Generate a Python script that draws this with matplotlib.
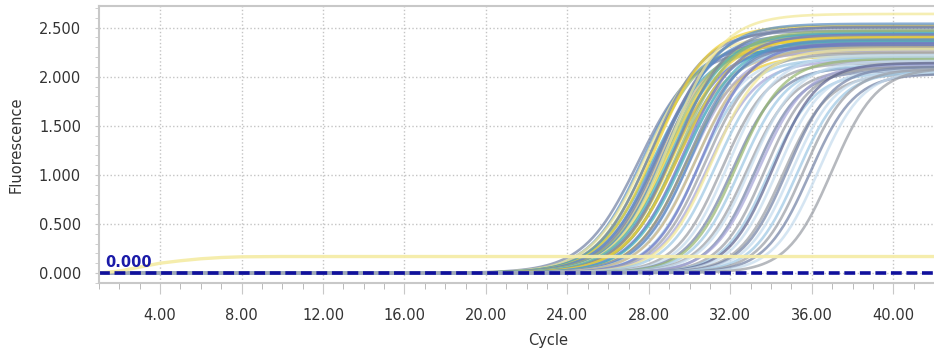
import numpy as np
import matplotlib
matplotlib.use("Agg")
import matplotlib.pyplot as plt
from matplotlib.ticker import MultipleLocator, FormatStrFormatter

# Amplification curves: Ct (half-plateau cycle), plateau, slope, colour
ct = [27.5, 27.7, 27.9, 28.0, 28.1, 28.2, 28.3, 28.4, 28.5, 28.55,
      28.6, 28.7, 28.8, 28.85, 28.9, 29.0, 29.05, 29.1, 29.2, 29.25,
      29.3, 29.4, 29.45, 29.5, 29.6, 29.7, 29.75, 29.8, 29.9, 30.0,
      30.1, 30.2, 30.3, 30.45, 30.6, 30.75, 30.9, 31.1, 31.3,
      31.6, 31.9, 32.1, 32.3, 32.5, 32.8, 33.0, 33.2, 33.4, 33.7,
      33.9, 34.1, 34.3, 34.6, 34.8, 35.0, 35.3, 35.6, 35.9, 36.3, 37.0]
plateau = [2.28, 2.32, 2.42, 2.36, 2.47, 2.30, 2.52, 2.40, 2.44, 2.34,
           2.50, 2.27, 2.42, 2.54, 2.38, 2.64, 2.31, 2.45, 2.39, 2.51,
           2.25, 2.35, 2.47, 2.41, 2.29, 2.43, 2.37, 2.21, 2.33, 2.27,
           2.38, 2.22, 2.30, 2.18, 2.34, 2.24, 2.16, 2.28, 2.20,
           2.14, 2.22, 2.10, 2.18, 2.12, 2.08, 2.16, 2.06, 2.12, 2.10,
           2.04, 2.14, 2.08, 2.03, 2.10, 2.06, 2.05, 2.08, 2.03, 2.06, 2.09]
slope = [1.35, 1.3, 1.35, 1.3, 1.3, 1.35, 1.3, 1.3, 1.35, 1.3,
         1.3, 1.3, 1.35, 1.3, 1.3, 1.3, 1.3, 1.35, 1.3, 1.3,
         1.3, 1.3, 1.3, 1.35, 1.3, 1.3, 1.3, 1.25, 1.25, 1.25,
         1.25, 1.25, 1.25, 1.2, 1.2, 1.2, 1.2, 1.2, 1.2,
         1.15, 1.15, 1.15, 1.15, 1.15, 1.15, 1.15, 1.1, 1.15, 1.1,
         1.1, 1.1, 1.1, 1.1, 1.1, 1.1, 1.1, 1.1, 1.1, 1.1, 1.1]
colour_keys = ["sl", "st", "py", "gr", "sl", "te", "ye", "pw", "st", "ta",
               "sl", "lb", "gr", "st", "ye", "py", "pw", "te", "ye", "sl",
               "ta", "st", "gr", "ye", "lb", "pw", "te", "ye", "sl", "la",
               "st", "pb", "ta", "lb", "pw", "gy", "la", "py", "lb",
               "gy", "pb", "sl", "gr", "lb", "gy", "pb", "sl", "la", "gy",
               "lb", "dk", "pb", "gy", "sl", "pb", "lb", "gy", "sl", "pb", "gy"]

palette = {"sl": "#7483a6", "st": "#5b8ec4", "pw": "#6f78c6", "ye": "#f0cf30",
           "py": "#f2e896", "lb": "#9fc8e4", "pb": "#c6dcee", "gr": "#98b870",
           "te": "#48aebc", "ta": "#c8b482", "la": "#a6a6d8", "gy": "#9a9ea6",
           "dk": "#5f6590"}

# flat yellow well (no amplification)
flat_cycles = [1, 2, 3, 4, 5, 6, 7, 8, 10, 42]
flat_values = [0.0, 0.02, 0.06, 0.10, 0.125, 0.145, 0.158, 0.165, 0.168, 0.168]

threshold = 0.0
x_ticks = [4, 8, 12, 16, 20, 24, 28, 32, 36, 40]

cycles = np.linspace(1, 42, 400)

fig = plt.figure(figsize=(9.34, 3.58), dpi=100)
ax = fig.add_axes([0.106, 0.21, 0.894, 0.773])

for c, p, k, key in zip(ct, plateau, slope, colour_keys):
    y = p / (1 + np.exp(-(cycles - c) / k))
    ax.plot(cycles, y, color=palette[key], lw=1.9, alpha=0.72, solid_capstyle="round")

ax.plot(flat_cycles, flat_values, color="#f5eca8", lw=2.4, alpha=0.95)

ax.axhline(threshold, color="#10109c", lw=2.6, ls=(0, (3, 1.3)))
ax.text(1.3, 0.03, "%.3f" % threshold, color="#1a1aa8", fontsize=10.5,
        fontweight="bold", va="bottom")

ax.set_xlim(1, 42)
ax.set_ylim(-0.1, 2.72)
ax.set_xticks(x_ticks)
ax.xaxis.set_minor_locator(MultipleLocator(1))
ax.yaxis.set_major_locator(MultipleLocator(0.5))
ax.yaxis.set_minor_locator(MultipleLocator(0.1))
ax.xaxis.set_major_formatter(FormatStrFormatter("%.2f"))
ax.yaxis.set_major_formatter(FormatStrFormatter("%.3f"))

ax.grid(True, which="major", color="#c4c4c4", ls=":", lw=1)
ax.set_axisbelow(True)

for s in ["left", "top", "bottom"]:
    ax.spines[s].set_color("#c8c8c8")
    ax.spines[s].set_linewidth(1.5)
ax.spines["right"].set_visible(False)

ax.tick_params(axis="x", which="major", length=8, color="#c8c8c8", pad=10,
               labelsize=10.5, labelcolor="#333333")
ax.tick_params(axis="x", which="minor", length=4, color="#b0b0b0")
ax.tick_params(axis="y", which="major", length=3, color="#c8c8c8", pad=10,
               labelsize=10.5, labelcolor="#333333")
ax.tick_params(axis="y", which="minor", length=3, color="#c8c8c8")

ax.set_xlabel("Cycle", fontsize=10.5, color="#333333")
ax.set_ylabel("Fluorescence", fontsize=10.5, color="#333333")
ax.xaxis.set_label_coords(0.538, -0.18)
ax.yaxis.set_label_coords(-0.09, 0.5)

fig.savefig("out.png", dpi=100, facecolor="white")
